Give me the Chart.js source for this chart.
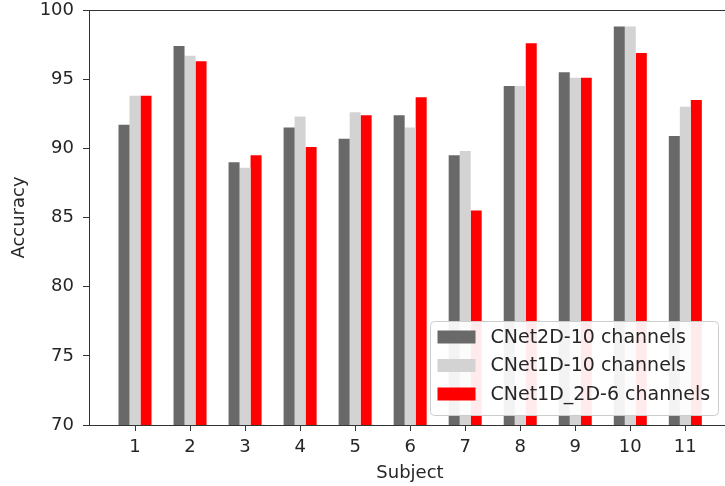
<!DOCTYPE html>
<html lang="en">
<head>
    <meta charset="UTF-8">
    <title>Accuracy per Subject</title>
    <script src="https://cdn.jsdelivr.net/npm/chart.js"></script>
    <style>
        html, body {
            margin: 0;
            padding: 0;
            background: #fff;
            overflow: hidden;
        }
        .chart-container {
            position: relative;
            width: 760px;
            height: 486px;
        }
    </style>
</head>
<body>
    <div class="chart-container">
        <canvas id="accChart"></canvas>
    </div>

    <script>
        // values
        const subjects = [1, 2, 3, 4, 5, 6, 7, 8, 9, 10, 11];
        const cnet2d10 = [91.7, 97.4, 89.0, 91.5, 90.7, 92.4, 89.5, 94.5, 95.5, 98.8, 90.9];
        const cnet1d10 = [93.8, 96.7, 88.6, 92.3, 92.6, 91.5, 89.8, 94.5, 95.1, 98.8, 93.0];
        const cnet1d2d6 = [93.8, 96.3, 89.5, 90.1, 92.4, 93.7, 85.5, 97.6, 95.1, 96.9, 93.5];
        const seriesNames = ['CNet2D-10 channels', 'CNet1D-10 channels', 'CNet1D_2D-6 channels'];
        const seriesColors = ['#696969', '#d3d3d3', '#ff0000'];

        const FONT = { family: '"DejaVu Sans", sans-serif', size: 18 };
        const INK = '#262626';

        function toPoints(values) {
            return subjects.map((s, i) => ({ x: s, y: values[i] }));
        }

        function noPadding(scale) {
            scale.paddingTop = 0;
            scale.paddingBottom = 0;
            scale.paddingLeft = 0;
            scale.paddingRight = 0;
        }

        // matplotlib style frame + legend inside the axes
        const framePlugin = {
            id: 'frame',
            afterDraw(chart) {
                const { ctx, chartArea } = chart;
                ctx.save();
                ctx.strokeStyle = '#333';
                ctx.lineWidth = 1;
                ctx.beginPath();
                ctx.moveTo(chartArea.left, chartArea.top + 0.5);
                ctx.lineTo(chartArea.right, chartArea.top + 0.5);
                ctx.moveTo(chartArea.right - 0.5, chartArea.top);
                ctx.lineTo(chartArea.right - 0.5, chartArea.bottom);
                ctx.stroke();

                // legend box, lower right
                const lw = 288, lh = 94;
                const lx = chartArea.right - 13 - lw + 0.5;
                const ly = chartArea.bottom - 10 - lh + 0.5;
                ctx.beginPath();
                ctx.roundRect(lx, ly, lw, lh, 4);
                ctx.fillStyle = 'rgba(255,255,255,0.92)';
                ctx.fill();
                ctx.strokeStyle = '#cccccc';
                ctx.stroke();

                ctx.font = '19px ' + FONT.family;
                ctx.textBaseline = 'middle';
                ctx.textAlign = 'left';
                chart.data.datasets.forEach((ds, i) => {
                    const cy = ly + 15.5 + i * 28.5;
                    ctx.fillStyle = ds.backgroundColor;
                    ctx.fillRect(lx + 7, cy - 6.5, 38, 13);
                    ctx.fillStyle = INK;
                    ctx.fillText(ds.label, lx + 60, cy + 1);
                });
                ctx.restore();
            }
        };

        const ctx = document.getElementById('accChart').getContext('2d');
        new Chart(ctx, {
            type: 'bar',
            data: {
                datasets: [cnet2d10, cnet1d10, cnet1d2d6].map((vals, i) => ({
                    label: seriesNames[i],
                    data: toPoints(vals),
                    backgroundColor: seriesColors[i],
                    borderWidth: 0,
                    categoryPercentage: 0.6,
                    barPercentage: 1.0
                }))
            },
            options: {
                responsive: true,
                maintainAspectRatio: false,
                animation: false,
                layout: {
                    padding: { top: 10, right: 29, left: 0, bottom: 0 }
                },
                scales: {
                    x: {
                        type: 'linear',
                        offset: false,
                        min: 0.164,
                        max: 11.83,
                        afterBuildTicks: (scale) => {
                            scale.ticks = subjects.map(v => ({ value: v }));
                        },
                        afterFit: (scale) => {
                            scale.height = 61;
                            noPadding(scale);
                        },
                        grid: {
                            offset: false,
                            drawOnChartArea: false,
                            drawTicks: true,
                            tickLength: 6,
                            color: '#333'
                        },
                        border: { color: '#333', width: 1 },
                        ticks: {
                            font: FONT,
                            color: INK,
                            padding: 6,
                            autoSkip: false,
                            maxRotation: 0
                        },
                        title: {
                            display: true,
                            text: 'Subject',
                            font: FONT,
                            color: INK,
                            padding: { top: 0, bottom: 2 }
                        }
                    },
                    y: {
                        min: 70,
                        max: 100,
                        afterFit: (scale) => {
                            scale.width = 89;
                            noPadding(scale);
                        },
                        grid: {
                            drawOnChartArea: false,
                            drawTicks: true,
                            tickLength: 6,
                            color: '#333'
                        },
                        border: { color: '#333', width: 1 },
                        ticks: {
                            stepSize: 5,
                            font: FONT,
                            color: INK,
                            padding: 9
                        },
                        title: {
                            display: true,
                            text: 'Accuracy',
                            font: FONT,
                            color: INK,
                            padding: { top: 9, bottom: 0 }
                        }
                    }
                },
                plugins: {
                    legend: { display: false },
                    tooltip: { enabled: false }
                }
            },
            plugins: [framePlugin]
        });
    </script>
</body>
</html>
